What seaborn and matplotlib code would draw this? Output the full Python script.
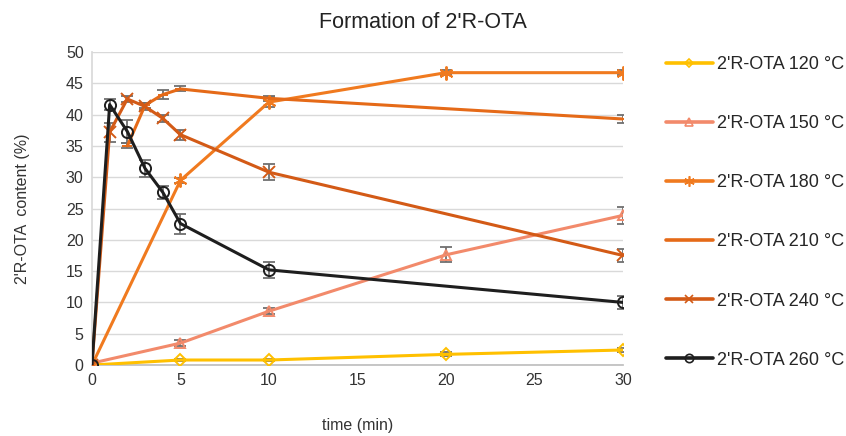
import matplotlib
matplotlib.use("Agg")
import matplotlib.pyplot as plt
from matplotlib.lines import Line2D
import seaborn as sns
import pandas as pd

sns.set_theme(style="white")
plt.rcParams["font.family"] = ["Liberation Sans", "DejaVu Sans"]

# Time points (min) and 2'R-OTA content (%) per temperature
t_120 = [0, 5, 10, 20, 30]
y_120 = [0.0, 0.8, 0.8, 1.7, 2.4]
e_120 = [0.2, 0.2, 0.2, 0.3, 0.3]

t_150 = [0, 5, 10, 20, 30]
y_150 = [0.3, 3.5, 8.6, 17.6, 23.9]
e_150 = [0.2, 0.5, 0.5, 1.2, 1.4]

t_180 = [0, 5, 10, 20, 30]
y_180 = [0.0, 29.5, 42.0, 46.7, 46.7]
e_180 = [0.2, 0.4, 0.8, 0.4, 0.4]

t_210 = [2, 3, 4, 5, 10, 30]
y_210 = [35.0, 41.5, 43.2, 44.1, 42.6, 39.3]
e_210 = [0.4, 0.4, 0.7, 0.4, 0.4, 0.6]

t_240 = [0, 1, 2, 3, 4, 5, 10, 30]
y_240 = [0.0, 37.2, 42.5, 41.3, 39.4, 36.8, 30.8, 17.5]
e_240 = [0.2, 1.5, 0.5, 0.5, 0.5, 0.8, 1.3, 1.0]

t_260 = [0, 1, 2, 3, 4, 5, 10, 30]
y_260 = [0.0, 41.6, 37.3, 31.4, 27.6, 22.6, 15.2, 10.0]
e_260 = [0.3, 0.9, 1.8, 1.4, 1.0, 1.6, 1.3, 1.0]

labels = ["2'R-OTA 120 °C", "2'R-OTA 150 °C", "2'R-OTA 180 °C",
          "2'R-OTA 210 °C", "2'R-OTA 240 °C", "2'R-OTA 260 °C"]

series = [
    (t_120, y_120, e_120, "#FFC000", "D", 6, True),
    (t_150, y_150, e_150, "#F28A6B", "^", 7, True),
    (t_180, y_180, e_180, "#F07A1F", (6, 2, 0), 10, False),
    (t_210, y_210, e_210, "#E56A18", "_", 7, False),
    (t_240, y_240, e_240, "#D35A16", "x", 8, False),
    (t_260, y_260, e_260, "#1E1E1E", "o", 8, True),
]

fig = plt.figure(figsize=(8.46, 4.36), dpi=100)
ax = fig.add_axes([0.1087, 0.1628, 0.6277, 0.7179])

handles = []
for (t, y, e, color, marker, ms, hollow), label in zip(series, labels):
    ax.errorbar(t, y, yerr=e, fmt="none", ecolor="#707070",
                elinewidth=1.3, capsize=4, capthick=1.3, zorder=2)
    df = pd.DataFrame({"time": t, "content": y})
    face = "none" if hollow else color
    sns.lineplot(data=df, x="time", y="content", ax=ax, color=color,
                 linewidth=2.2, marker=marker, markersize=ms,
                 markeredgecolor=color, markerfacecolor=face,
                 markeredgewidth=1.4, legend=False, zorder=3)
    handles.append(Line2D([0], [0], color=color, linewidth=2.6, marker=marker,
                          markersize=ms * 0.75, markeredgecolor=color,
                          markerfacecolor=face, markeredgewidth=1.2))

ax.set_xlim(0, 30)
ax.set_ylim(0, 50)
ax.set_xticks(range(0, 31, 5))
ax.set_yticks(range(0, 51, 5))
ax.tick_params(axis="both", length=0, labelsize=11.5, colors="#333333", pad=6)
ax.yaxis.grid(True, color="#d9d9d9", linewidth=1.0)
ax.xaxis.grid(False)
for side in ["top", "right"]:
    ax.spines[side].set_visible(False)
ax.spines["left"].set_color("#d9d9d9")
ax.spines["bottom"].set_color("#bfbfbf")
ax.set_axisbelow(True)

ax.set_xlabel("time (min)", fontsize=11.5, color="#333333", labelpad=21)
ax.set_ylabel("2'R-OTA  content (%)", fontsize=11.5, color="#333333", labelpad=26)
fig.text(0.5, 0.948, "Formation of 2'R-OTA", ha="center", va="center",
         fontsize=15.5, color="#222222")

fig.legend(handles, labels, loc="upper left", bbox_to_anchor=(0.787, 0.871),
           frameon=False, fontsize=13, labelspacing=2.33, handlelength=2.6,
           handletextpad=0.25, borderaxespad=0, borderpad=0)

fig.savefig("out.png", dpi=100)
